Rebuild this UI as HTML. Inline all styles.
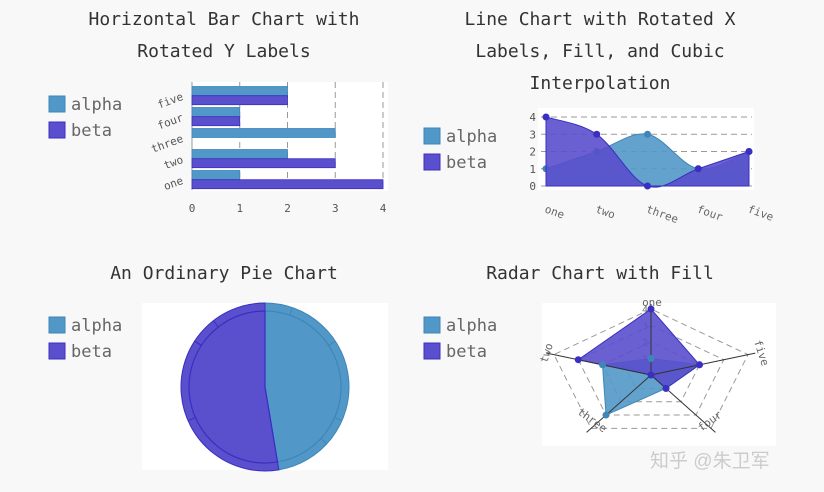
<!DOCTYPE html>
<html><head><meta charset="utf-8"><style>
html,body{margin:0;padding:0;background:#f8f8f8;}
svg{display:block;font-family:"DejaVu Sans Mono","Liberation Mono",monospace;}
</style></head><body>
<svg id="s" width="824" height="492" viewBox="0 0 824 492" xmlns="http://www.w3.org/2000/svg"></svg>
<script>
const categories=['one','two','three','four','five'];
const alphaValues=[1,2,3,1,2];
const betaValues=[4,3,0,1,2];
const xTicks=[0,1,2,3,4];
const yTicks=[0,1,2,3,4];
const seriesNames=['alpha','beta'];
const A='#5198c8',B='#5a4fcc',AS='#3f86b8',BS='#3a2fc0';
const NS='http://www.w3.org/2000/svg';
const svg=document.getElementById('s');
function el(t,a,p){const e=document.createElementNS(NS,t);for(const k in a)e.setAttribute(k,a[k]);(p||svg).appendChild(e);return e;}
function txt(s,a,p){const e=el('text',a,p);e.textContent=s;return e;}
function grp(name){const g=el('g',{});return g;}
function title(lines,cx,y0){const g=grp('chart-title');lines.forEach((l,i)=>{txt(l,{x:cx,y:y0+i*32,'text-anchor':'middle','font-size':18,fill:'#333'},g);});}
function legend(x,y){const g=grp('legend');seriesNames.forEach((n,i)=>{const it=el('g',{},g);
el('rect',{x:x,y:y+i*26,width:16,height:16,fill:i?B:A,stroke:i?BS:AS},it);txt(n,{x:x+22,y:y+i*26+14,'font-size':17,fill:'#666'},it);});}

// ---- Bar chart ----
title(['Horizontal Bar Chart with','Rotated Y Labels'],224,25);
legend(49,96);
(function(){const g=grp('bar-chart');
el('rect',{x:192,y:82,width:196,height:109,fill:'#fff'},g);
const x0=192,x1=383,top=85,bot=190;const xs=v=>x0+(x1-x0)*v/4;
const band=(bot-top)/categories.length;
xTicks.forEach(t=>{if(t>0)el('line',{x1:xs(t),x2:xs(t),y1:82,y2:bot,stroke:'#999','stroke-dasharray':'6,4'},g);
txt(String(t),{x:xs(t),y:212,'text-anchor':'middle','font-size':11,fill:'#555'},g);});
el('line',{x1:x0,x2:x0,y1:82,y2:bot,stroke:'#999'},g);
categories.forEach((c,i)=>{const by=bot-(i+1)*band;
[[alphaValues,A,AS,'alpha'],[betaValues,B,BS,'beta']].forEach((s,j)=>{const v=s[0][i];if(v>0){const r=el('rect',{x:x0,y:by+1.5+j*9.2,width:xs(v)-x0,height:9,fill:s[1],stroke:s[2],'stroke-width':0.8},g);}});
const cy=by+band/2+4;txt(c,{x:184,y:cy,'text-anchor':'end','font-size':11,fill:'#555',transform:`rotate(-20 184 ${cy})`},g);});
})();

// ---- Line chart ----
title(['Line Chart with Rotated X','Labels, Fill, and Cubic','Interpolation'],600,25);
legend(424,128);
(function(){const g=grp('line-chart');
el('rect',{x:538,y:108,width:216,height:82,fill:'#fff'},g);
const x0=546,x1=749,ys=v=>186-v*17.25;const xs=i=>x0+(x1-x0)*i/4;
yTicks.forEach(t=>{if(t>0)el('line',{x1:541,x2:752,y1:ys(t),y2:ys(t),stroke:'#999','stroke-dasharray':'6,4'},g);
txt(String(t),{x:536,y:ys(t)+4,'text-anchor':'end','font-size':11,fill:'#555'},g);});
el('line',{x1:541,x2:752,y1:ys(0),y2:ys(0),stroke:'#999'},g);
function curve(vals){const p=vals.map((v,i)=>[xs(i),ys(v)]);let d='M'+p[0][0]+','+p[0][1];
for(let i=0;i<p.length-1;i++){const p0=p[Math.max(i-1,0)],p1=p[i],p2=p[i+1],p3=p[Math.min(i+2,p.length-1)];
d+=` C${p1[0]+(p2[0]-p0[0])/6},${p1[1]+(p2[1]-p0[1])/6} ${p2[0]-(p3[0]-p1[0])/6},${p2[1]-(p3[1]-p1[1])/6} ${p2[0]},${p2[1]}`;}return d;}
[[alphaValues,A,AS,'alpha'],[betaValues,B,BS,'beta']].forEach(s=>{const d=curve(s[0]);
const f=el('path',{d:d+` L${xs(4)},${ys(0)} L${xs(0)},${ys(0)} Z`,fill:s[1],'fill-opacity':0.9,stroke:s[2],'stroke-width':1},g);

s[0].forEach((v,i)=>{const c=el('circle',{cx:xs(i),cy:ys(v),r:3.5,fill:s[2]},g);});});
categories.forEach((c,i)=>{const x=xs(i)-2,y=212;txt(c,{x:x,y:y,'font-size':11,fill:'#666',transform:`rotate(20 ${x} ${y})`},g);});
})();

// ---- Pie ----
title(['An Ordinary Pie Chart'],224,279);
legend(49,317);
(function(){const g=grp('pie-chart');
el('rect',{x:142,y:303,width:246,height:167,fill:'#fff'},g);
const cx=265,cy=387,R=84,r2=76;const ta=alphaValues.reduce((a,b)=>a+b,0),tb=betaValues.reduce((a,b)=>a+b,0),tot=ta+tb;
const pt=(a,r)=>[cx+r*Math.sin(a),cy-r*Math.cos(a)];
function wedge(a0,a1,r){const p0=pt(a0,r),p1=pt(a1,r);return `M${cx},${cy} L${p0[0]},${p0[1]} A${r},${r} 0 ${a1-a0>Math.PI?1:0} 1 ${p1[0]},${p1[1]} Z`;}
let a=0;[[alphaValues,ta,A,AS,'alpha'],[betaValues,tb,B,BS,'beta']].forEach(s=>{const a1=a+2*Math.PI*s[1]/tot;
const w=el('path',{d:wedge(a,a1,R),fill:s[2],stroke:s[3],'stroke-width':1},g);
el('path',{d:wedge(a,a1,r2),fill:'none',stroke:s[3],'stroke-width':1.2},g);
let b=a;s[0].forEach(v=>{b+=2*Math.PI*v/tot;const p0=pt(b,r2),p1=pt(b,R);el('line',{x1:p0[0],y1:p0[1],x2:p1[0],y2:p1[1],stroke:s[3],'stroke-width':1},g);});
a=a1;});
})();

// ---- Radar ----
title(['Radar Chart with Fill'],600,279);
legend(424,317);
(function(){const g=grp('radar-chart');
el('rect',{x:542,y:303,width:234,height:143,fill:'#fff'},g);
const cx=651,cy=375,sx=25.5,sy=16.5;
const ang=i=>(-90-72*i)*Math.PI/180;const P=(i,v)=>[cx+v*sx*Math.cos(ang(i)),cy+v*sy*Math.sin(ang(i))];
yTicks.forEach(t=>{if(t>0){el('polygon',{points:categories.map((c,i)=>P(i,t).join(',')).join(' '),fill:'none',stroke:'#999','stroke-dasharray':'6,4'},g);
txt(String(t),{x:cx-3,y:cy-t*sy+4,'text-anchor':'end','font-size':10,fill:'#777'},g);}});
[[alphaValues,A,AS,'alpha'],[betaValues,B,BS,'beta']].forEach(s=>{const p=el('polygon',{points:s[0].map((v,i)=>P(i,v).join(',')).join(' '),fill:s[1],'fill-opacity':0.9,stroke:s[2]},g);
});
categories.forEach((c,i)=>{const e=P(i,4.3);el('line',{x1:cx,y1:cy,x2:e[0],y2:e[1],stroke:'#333','stroke-width':1},g);});
[[alphaValues,AS,'alpha'],[betaValues,BS,'beta']].forEach(s=>{s[0].forEach((v,i)=>{const q=P(i,v);const c=el('circle',{cx:q[0],cy:q[1],r:3.5,fill:s[1]},g);});});
const lab=[[652,306,0],[550,354,-72],[590,423,36],[712,424,-36],[758,354,72]];
categories.forEach((c,i)=>{const l=lab[i];txt(c,{x:l[0],y:l[1],'text-anchor':'middle','font-size':11,fill:'#666',transform:`rotate(${l[2]} ${l[0]} ${l[1]})`},g);});
})();
txt('知乎 @朱卫军',{x:650,y:467,'font-size':19,fill:'#ccc','font-family':'"Liberation Sans","Noto Sans CJK SC",sans-serif'});
</script>
</body></html>
